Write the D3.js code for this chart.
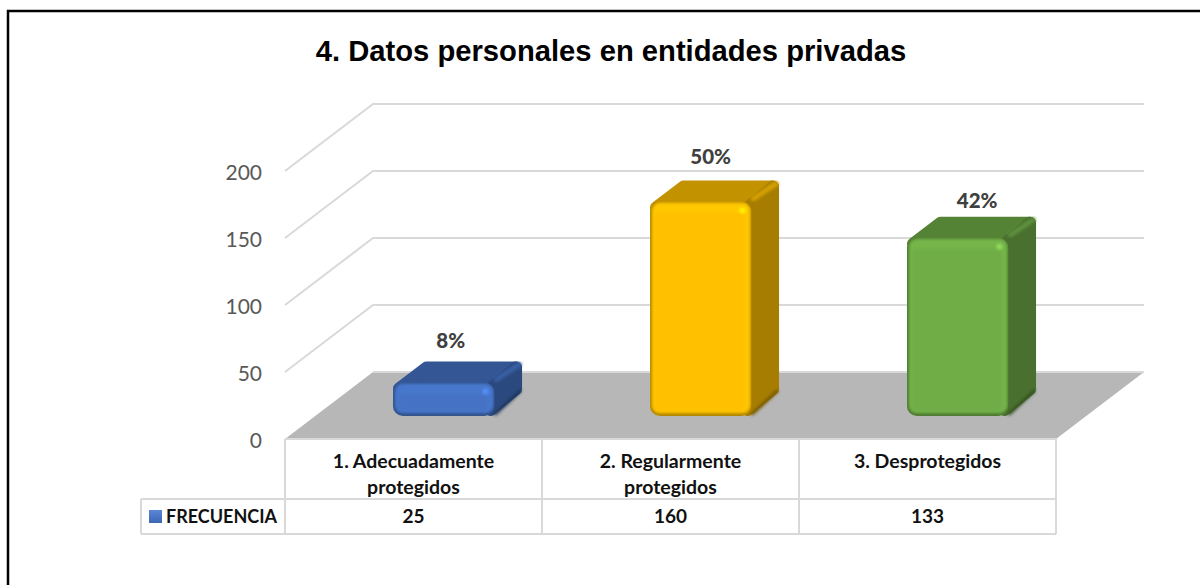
<!DOCTYPE html>
<html lang="es">
<head>
<meta charset="utf-8">
<title>4. Datos personales en entidades privadas</title>
<script src="https://cdnjs.cloudflare.com/ajax/libs/d3/7.8.5/d3.min.js"></script>
<style>
html,body{margin:0;padding:0;background:#fff;overflow:hidden}
svg{display:block}
.cell{font-family:Lato,"Noto Sans",sans-serif;font-weight:700;fill:#111}
</style>
</head>
<body>
<div id="chart"></div>
<script>
const chartTitle = "4. Datos personales en entidades privadas";
const categories = ["1. Adecuadamente protegidos", "2. Regularmente protegidos", "3. Desprotegidos"];
const categoryLines = [["1. Adecuadamente", "protegidos"], ["2. Regularmente", "protegidos"], ["3. Desprotegidos"]];
const seriesName = "FRECUENCIA";
const values = [25, 160, 133];
const percentLabels = ["8%", "50%", "42%"];
const yTicks = [0, 50, 100, 150, 200];
const barColors = ["#4472C4", "#FFC000", "#70AD47"];

const W = 1200, H = 585;
const svg = d3.select("#chart").append("svg").attr("width", W).attr("height", H);
const defs = svg.append("defs");
const blur = (id, s) => defs.append("filter").attr("id", id)
  .attr("x", "-20%").attr("y", "-20%").attr("width", "140%").attr("height", "140%")
  .append("feGaussianBlur").attr("stdDeviation", s);
blur("b1", 1.4); blur("soft", 0.6);

// frame (runs off the page on the right and at the bottom)
svg.append("rect").attr("x", 8).attr("y", 11).attr("width", W + 40).attr("height", H + 40)
  .attr("fill", "none").attr("stroke", "#000").attr("stroke-width", 2.5);

svg.append("text").text(chartTitle).attr("x", 611).attr("y", 61).attr("text-anchor", "middle")
  .attr("font-family", "'Liberation Sans',Arial,sans-serif").attr("font-weight", 700)
  .attr("font-size", 29.2).attr("fill", "#000");

// scales
const x = d3.scaleBand().domain(categories).range([285, 1056]);
const y = d3.scaleLinear().domain([0, 200]).range([439, 171]);
const depthX = d3.scaleLinear().domain([0, 1]).range([0, 88]);
const depthY = d3.scaleLinear().domain([0, 1]).range([0, -67]);
const project = (px, v, d) => [px + depthX(d), y(v) + depthY(d)];
const line = d3.line();

// floor
const [x0, x1] = x.range();
svg.append("path").attr("fill", "#b7b7b7").attr("d", line([
  project(x0, 0, 0), project(x1, 0, 0), project(x1, 0, 1), project(x0, 0, 1)]) + "Z");

// gridlines on side wall and back wall
const grid = svg.append("g").attr("fill", "none").attr("stroke", "#d9d9d9").attr("stroke-width", 2);
grid.selectAll("path").data(yTicks).join("path").attr("d", v => v === 0
  ? line([project(x0, 0, 1), project(x1, 0, 1)])
  : line([project(x0, v, 0), project(x0, v, 1), project(x1, v, 1)]));

// y axis
const axis = svg.append("g").attr("transform", `translate(${x0},2)`)
  .call(d3.axisLeft(y).tickValues(yTicks).tickSize(0).tickPadding(23));
axis.select(".domain").remove();
axis.selectAll("text").attr("font-family", "Lato,'Noto Sans',sans-serif")
  .attr("font-size", 21).attr("fill", "#595959");

// bars
const barFrac = 0.395, dFront = 23 / 67, dBack = 44 / 67, r = 6;
const bars = svg.selectAll("g.bar").data(categories).join("g").attr("class", "bar").attr("filter", "url(#soft)");
bars.each(function (cat, i) {
  const g = d3.select(this);
  const base = d3.color(barColors[i]);
  const mul = k => { const c = d3.rgb(base); return d3.rgb(c.r * k, c.g * k, c.b * k).formatHex(); };
  const cx = x(cat) + x.bandwidth() / 2;
  const hw = x.bandwidth() * barFrac / 2;
  const v = values[i];
  const fl = cx - hw, fr = cx + hw;
  const FTL = project(fl, v, dFront), FTR = project(fr, v, dFront), FBL = project(fl, 0, dFront), FBR = project(fr, 0, dFront);
  const BTL = project(fl, v, dBack), BTR = project(fr, v, dBack), BBR = project(fr, 0, dBack);
  const clipId = "clip" + i;

  // top face
  const shrink = ([a, b], dx, dy) => [a + dx, b + dy];
  g.append("path").attr("fill", mul(0.76)).attr("stroke", mul(0.76)).attr("stroke-width", 2 * r).attr("stroke-linejoin", "round")
    .attr("d", line([shrink(FTL, r, r), shrink(FTR, -r, r), shrink(BTR, -r, r), shrink(BTL, r, r)]) + "Z");
  // side face
  g.append("path").attr("fill", mul(0.65)).attr("stroke", mul(0.65)).attr("stroke-width", 2 * r).attr("stroke-linejoin", "round")
    .attr("d", line([shrink(FTR, -4, r), shrink(BTR, -r, r), shrink(BBR, -r, -r), shrink(FBR, -4, -r)]) + "Z");
  // lighter ridge between top and side, darker foot of the side
  g.append("path").attr("fill", "none").attr("stroke", mul(0.84)).attr("stroke-width", 5).attr("stroke-linecap", "round")
    .attr("filter", "url(#b1)").attr("d", line([shrink(FTR, 2, -3), shrink(BTR, -3, 3)]));
  g.append("path").attr("fill", "none").attr("stroke", mul(0.45)).attr("stroke-width", 3).attr("stroke-linecap", "round")
    .attr("filter", "url(#b1)").attr("d", line([shrink(FBR, 1, -2), shrink(BBR, -2, -4)]));

  // front face: soft dark rim, faint bevel, flat centre
  const fx = FTL[0], w = FTR[0] - FTL[0], h = FBL[1] - FTL[1];
  defs.append("clipPath").attr("id", clipId).append("rect")
    .attr("x", fx).attr("y", FTL[1]).attr("width", w).attr("height", h).attr("rx", 10);
  const front = g.append("g").attr("clip-path", `url(#${clipId})`);
  front.append("rect").attr("x", fx).attr("y", FTL[1]).attr("width", w).attr("height", h).attr("fill", mul(0.7));
  front.append("rect").attr("x", fx + 2).attr("y", FTL[1] + 1).attr("width", w - 3).attr("height", h - 4)
    .attr("rx", 8).attr("fill", d3.rgb(base).brighter(0.12).formatHex()).attr("filter", "url(#b1)");
  const bev = Math.min(11, h * 0.34);
  front.append("rect").attr("x", fx + 5).attr("y", FTL[1] + bev).attr("width", w - 11).attr("height", h - bev - 5)
    .attr("rx", 4).attr("fill", base.formatHex()).attr("filter", "url(#b1)");
  front.append("circle").attr("cx", FTR[0] - 9).attr("cy", FTL[1] + 9).attr("r", 3)
    .attr("fill", d3.rgb(base).brighter(0.7).formatHex()).attr("filter", "url(#b1)");

  // value label
  const gap = [14, 17, 9][i], shift = [7, 10, 19.5][i];
  g.append("text").text(percentLabels[i]).attr("x", fx + w / 2 + shift).attr("y", BTL[1] - gap)
    .attr("text-anchor", "middle").attr("font-family", "Lato,'Noto Sans',sans-serif").attr("font-weight", 900)
    .attr("font-size", 20.5).attr("fill", "#404040");
});
bars.selectAll("text").each(function () { svg.node().appendChild(this); });

// data table
const rowTop = y(0), rowMid = 499, rowBot = 534, legendLeft = 141;
const tbl = svg.append("g").attr("stroke", "#d9d9d9").attr("stroke-width", 2).attr("fill", "none");
tbl.append("path").attr("d", line([[x0, rowTop], [x1, rowTop]]));
tbl.append("path").attr("d", line([[legendLeft, rowMid], [x1, rowMid]]));
tbl.append("path").attr("d", line([[legendLeft, rowBot], [x1, rowBot]]));
tbl.append("path").attr("d", line([[legendLeft, rowMid], [legendLeft, rowBot]]));
[...categories.map(c => x(c)), x1].forEach(px =>
  tbl.append("path").attr("d", line([[px, rowTop], [px, rowBot]])));

const cells = svg.append("g").attr("text-anchor", "middle");
categories.forEach((cat, i) => {
  const cx = x(cat) + x.bandwidth() / 2;
  categoryLines[i].forEach((t, j) => cells.append("text").attr("class", "cell")
    .attr("x", cx).attr("y", 468 + j * 26).attr("font-size", 19.5).text(t));
  cells.append("text").attr("class", "cell").attr("x", cx).attr("y", 523).attr("font-size", 19).text(values[i]);
});

// legend key
const keyGrad = defs.append("linearGradient").attr("id", "key").attr("x1", 0).attr("y1", 0).attr("x2", 0).attr("y2", 1);
keyGrad.append("stop").attr("offset", 0).attr("stop-color", "#5b86d6");
keyGrad.append("stop").attr("offset", 1).attr("stop-color", "#3d67b5");
svg.append("rect").attr("x", 149).attr("y", 510).attr("width", 13).attr("height", 13).attr("fill", "url(#key)");
svg.append("text").attr("class", "cell").attr("x", 166).attr("y", 523).attr("font-size", 18).text(seriesName);
</script>
</body>
</html>
